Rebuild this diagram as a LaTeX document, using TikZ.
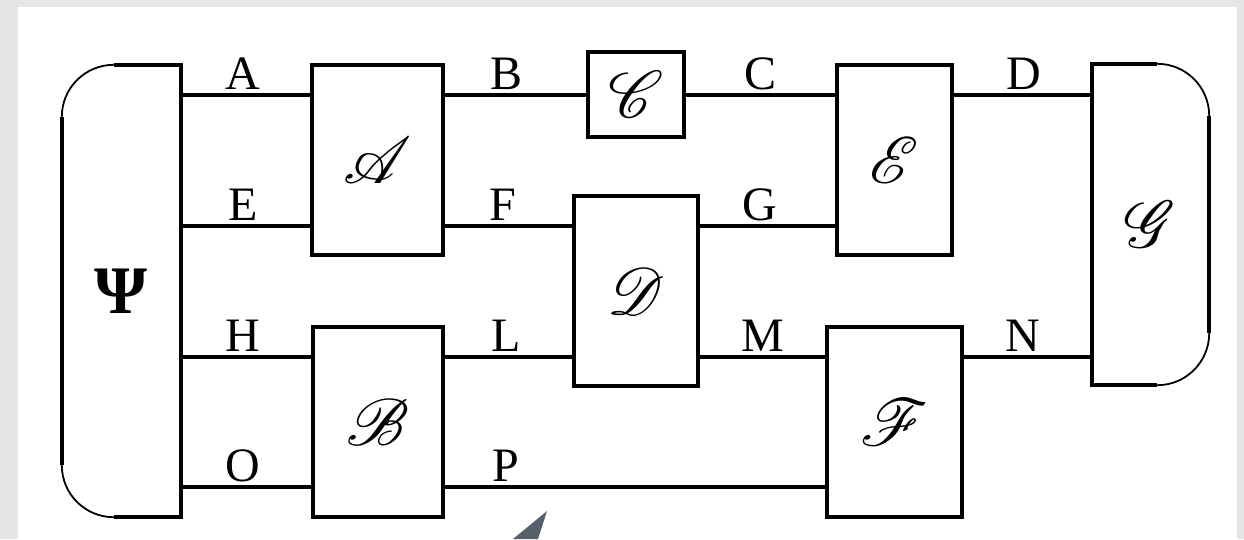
\documentclass[tikz,border=0pt]{standalone}
\usepackage{fontspec}
\setmainfont{Liberation Serif}
\usepackage{mathrsfs}
\DeclareFontFamily{U}{rsfs}{\skewchar\font127 }
\DeclareFontShape{U}{rsfs}{m}{n}{<-6> rsfs5 <6-8> rsfs7 <8-> rsfs10}{}
\definecolor{bggray}{HTML}{E6E6E6}
\definecolor{tailcol}{HTML}{56606B}
\begin{document}
\begin{tikzpicture}[x=1pt,y=-1pt,
  wire/.style={line width=3.8pt},
  arcln/.style={line width=1.8pt},
  blk/.style={draw,line width=3.8pt,rectangle,inner sep=0pt,font=\fontsize{66}{66}\selectfont},
  frame/.style={rectangle,inner sep=0pt},
  lbl/.style={anchor=base,inner sep=0pt,font=\fontsize{48}{48}\selectfont}]
\useasboundingbox (0,0) rectangle (1244,539);
\fill[bggray] (0,0) rectangle (1244,539);
\fill[white] (18,7) rectangle (1237,539);
\fill[tailcol] (547,511) -- (513,539) -- (538,539) -- cycle;

% level coordinates
\coordinate (y1) at (0,95);
\coordinate (y2) at (0,226);
\coordinate (y3) at (0,357);
\coordinate (y4) at (0,487);

% Psi block
\node[frame,minimum width=119pt,minimum height=452pt] (psi) at (121.5,291)
  {\fontsize{68}{68}\selectfont\bfseries Ψ};
\draw[wire] ([xshift=52pt]psi.north west) -- (psi.north east) -- (psi.south east) -- ([xshift=52pt]psi.south west);
\draw[wire] ([yshift=52pt]psi.south west) -- ([yshift=-52pt]psi.north west);
\draw[arcln] ([yshift=-52pt]psi.north west) arc[start angle=180,end angle=90,radius=52pt];
\draw[arcln] ([xshift=52pt]psi.south west) arc[start angle=270,end angle=180,radius=52pt];

% G block
\node[frame,minimum width=117pt,minimum height=321pt] (gb) at (1150.5,224.5)
  {\fontsize{66}{66}\selectfont$\mathscr{G}$};
\draw[wire] ([xshift=-52pt]gb.north east) -- (gb.north west) -- (gb.south west) -- ([xshift=-52pt]gb.south east);
\draw[wire] ([yshift=-52pt]gb.north east) -- ([yshift=52pt]gb.south east);
\draw[arcln] ([xshift=-52pt]gb.north east) arc[start angle=90,end angle=0,radius=52pt];
\draw[arcln] ([yshift=52pt]gb.south east) arc[start angle=0,end angle=-90,radius=52pt];

% blocks
\node[blk,minimum width=131pt,minimum height=190pt] (ba) at (377.5,160) {$\mathscr{A}$};
\node[blk,minimum width=96pt,minimum height=85pt] (bc) at (636,94.5) {$\mathscr{C}$};
\node[blk,minimum width=115pt,minimum height=190pt] (be) at (894.5,160) {$\mathscr{E}$};
\node[blk,minimum width=124pt,minimum height=190pt] (bd) at (636,291) {$\mathscr{D}$};
\node[blk,minimum width=130pt,minimum height=190pt] (bb) at (378,422) {$\mathscr{B}$};
\node[blk,minimum width=135pt,minimum height=190pt] (bf) at (894.5,422) {$\mathscr{F}$};

% wires
\draw[wire] (psi.east |- y1) -- (ba.west |- y1);
\draw[wire] (ba.east |- y1) -- (bc.west |- y1);
\draw[wire] (bc.east |- y1) -- (be.west |- y1);
\draw[wire] (be.east |- y1) -- (gb.west |- y1);
\draw[wire] (psi.east |- y2) -- (ba.west |- y2);
\draw[wire] (ba.east |- y2) -- (bd.west |- y2);
\draw[wire] (bd.east |- y2) -- (be.west |- y2);
\draw[wire] (psi.east |- y3) -- (bb.west |- y3);
\draw[wire] (bb.east |- y3) -- (bd.west |- y3);
\draw[wire] (bd.east |- y3) -- (bf.west |- y3);
\draw[wire] (bf.east |- y3) -- (gb.west |- y3);
\draw[wire] (psi.east |- y4) -- (bb.west |- y4);
\draw[wire] (bb.east |- y4) -- (bf.west |- y4);

% labels
\node[lbl] (lA) at (243,89) {A};
\node[lbl] (lB) at (507,89) {B};
\node[lbl] (lC) at (760,89) {C};
\node[lbl] (lD) at (1024,89) {D};
\node[lbl] (lE) at (243,220) {E};
\node[lbl] (lF) at (503,220) {F};
\node[lbl] (lG) at (760,220) {G};
\node[lbl] (lH) at (243,351) {H};
\node[lbl] (lL) at (506,351) {L};
\node[lbl] (lM) at (763,351) {M};
\node[lbl] (lN) at (1023,351) {N};
\node[lbl] (lO) at (243,481) {O};
\node[lbl] (lP) at (506,481) {P};
\end{tikzpicture}
\end{document}
